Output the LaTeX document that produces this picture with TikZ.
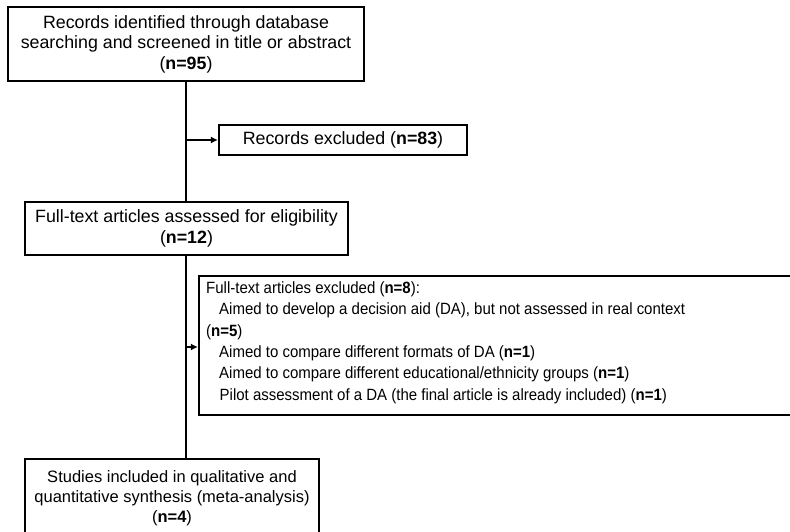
\documentclass[tikz,border=0pt]{standalone}
\usepackage{fontspec}
\setmainfont{Liberation Sans}
\newfontfamily\narrowfont[FakeStretch=0.92]{Liberation Sans}
\usetikzlibrary{arrows.meta}
\begin{document}
\begin{tikzpicture}[x=1pt,y=-1pt,
  box/.style={draw=black, line width=2.2pt, fill=white, inner sep=0pt, align=center,
    font=\fontsize{17.8}{20.5}\selectfont},
  conn/.style={line width=2.2pt},
  arr/.style={line width=1.8pt, -{Latex[length=7pt,width=7pt]}}]
\useasboundingbox (0,0) rectangle (790,531);
\fill[white] (0,0) rectangle (790,531);
\node[box, minimum width=356pt, minimum height=74pt] (b1) at (186,44)
  {Records identified through database\\searching and screened in title or abstract\\(\textbf{n=95})};
\node[box, minimum width=248pt, minimum height=30pt] (ex1) at (343,140)
  {Records excluded (\textbf{n=83})};
\node[box, minimum width=323pt, minimum height=53pt] (b2) at (186.5,228.5)
  {Full-text articles assessed for eligibility\\(\textbf{n=12})};
\node[box, minimum width=594pt, minimum height=139pt] (ex2) at (496,345.5) {};
\node[anchor=north west, align=left, inner sep=0pt,
  font=\narrowfont\fontsize{16.3}{21.3}\selectfont] (t2) at (206,281.5)
  {Full-text articles excluded (\textbf{n=8}):\\
   \hspace*{13pt}Aimed to develop a decision aid (DA), but not assessed in real context\\
   (\textbf{n=5})\\
   \hspace*{13pt}Aimed to compare different formats of DA (\textbf{n=1})\\
   \hspace*{13pt}Aimed to compare different educational/ethnicity groups (\textbf{n=1})\\
   \hspace*{13.5pt}Pilot assessment of a DA (the final article is already included) (\textbf{n=1})};
\node[box, minimum width=294pt, minimum height=78pt,
  font=\fontsize{16.5}{20}\selectfont] (b3) at (172,498)
  {Studies included in qualitative and\\quantitative synthesis (meta-analysis)\\(\textbf{n=4})};
\coordinate (j1) at (b1.south |- ex1.west);
\coordinate (j2) at (b1.south |- 0,347);
\draw[conn] (b1.south) -- (b1.south |- b2.north);
\draw[conn] (b2.south -| b1.south) -- (b1.south |- b3.north);
\draw[arr] (j1) -- (ex1.west);
\draw[arr] (j2) -- (ex2.west |- j2);
\end{tikzpicture}
\end{document}
